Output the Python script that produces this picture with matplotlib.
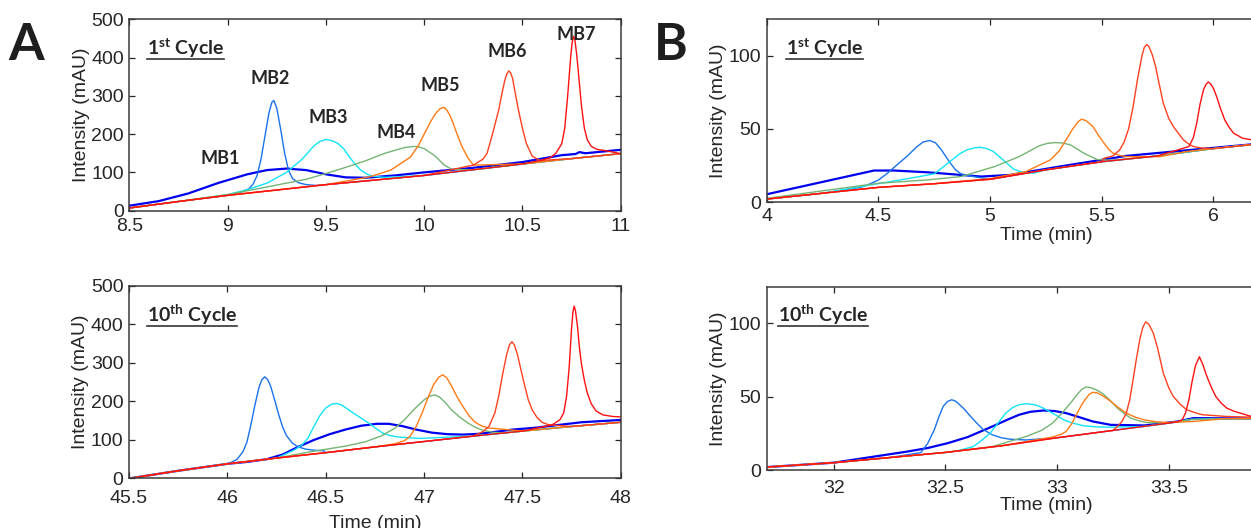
import numpy as np
import matplotlib
matplotlib.use('Agg')
import matplotlib.pyplot as plt
from matplotlib.lines import Line2D
from matplotlib.ticker import FuncFormatter
from matplotlib.transforms import IdentityTransform

# traces: time (min) / intensity (mAU)
# each panel has one shared baseline, each compound adds its own peak stretch

# ---- panel A, 1st cycle ----
a1_base_t = [8.5, 8.75, 9.0, 9.25, 9.5, 9.75, 10.0, 10.25, 10.5, 10.75, 11.0]
a1_base_y = [7, 24, 40, 54, 68, 80, 92, 107, 122, 136, 149]

a1_mb1_t = [8.5, 8.65, 8.8, 8.95, 9.1, 9.2, 9.3, 9.4, 9.5, 9.6, 9.7, 9.85, 10.0, 10.25, 10.5, 10.7, 10.77, 10.79, 10.82, 11.0]
a1_mb1_y = [13, 25, 45, 72, 95, 106, 110, 106, 95, 87, 86, 92, 100, 112, 127, 145, 148, 153, 150, 159]
a1_mb2_t = [9.05, 9.08, 9.11, 9.13, 9.15, 9.17, 9.19, 9.21, 9.225, 9.235, 9.25, 9.27, 9.29, 9.31, 9.33, 9.36, 9.40, 9.45]
a1_mb2_y = [47, 50, 58, 70, 92, 135, 195, 255, 283, 288, 268, 212, 150, 105, 84, 73, 68, 66]
a1_mb3_t = [9.0, 9.1, 9.2, 9.3, 9.38, 9.44, 9.47, 9.5, 9.53, 9.56, 9.59, 9.62, 9.65, 9.68, 9.71, 9.74, 9.8]
a1_mb3_y = [42, 55, 72, 100, 135, 170, 181, 186, 183, 176, 162, 140, 120, 105, 95, 90, 87]
a1_mb4_t = [9.0, 9.2, 9.4, 9.5, 9.6, 9.7, 9.8, 9.9, 9.95, 9.975, 10.0, 10.05, 10.075, 10.1, 10.14, 10.2]
a1_mb4_y = [42, 62, 82, 97, 113, 130, 150, 165, 168, 166, 162, 145, 133, 120, 108, 107]
a1_mb5_t = [9.72, 9.83, 9.93, 9.97, 10.01, 10.035, 10.06, 10.08, 10.10, 10.115, 10.13, 10.145, 10.16, 10.19, 10.22, 10.25]
a1_mb5_y = [88, 106, 140, 170, 210, 235, 255, 266, 270, 263, 250, 232, 210, 170, 140, 119]
a1_mb6_t = [10.25, 10.30, 10.32, 10.35, 10.38, 10.395, 10.41, 10.42, 10.43, 10.44, 10.45, 10.465, 10.48, 10.50, 10.52, 10.55, 10.59]
a1_mb6_y = [119, 135, 150, 205, 265, 305, 340, 357, 365, 360, 345, 302, 262, 215, 175, 142, 131]
a1_mb7_t = [10.59, 10.64, 10.67, 10.70, 10.715, 10.73, 10.745, 10.753, 10.76, 10.767, 10.775, 10.783, 10.79, 10.80,
            10.815, 10.83, 10.85, 10.88, 10.92]
a1_mb7_y = [131, 138, 150, 175, 215, 300, 400, 440, 456, 445, 412, 370, 330, 275, 215, 185, 168, 160, 157]

# ---- panel A, 10th cycle ----
a10_base_t = [45.5, 45.75, 46.0, 46.25, 46.5, 46.75, 47.0, 47.25, 47.5, 47.75, 48.0]
a10_base_y = [0, 20, 38, 53, 67, 82, 96, 110, 123, 135, 146]

a10_mb1_t = [45.5, 45.75, 46.0, 46.1, 46.2, 46.28, 46.36, 46.44, 46.52, 46.6, 46.68, 46.76, 46.82, 46.89, 46.96,
             47.04, 47.12, 47.2, 47.28, 47.36, 47.45, 47.57, 47.7, 47.8, 48.0]
a10_mb1_y = [0, 20, 38, 43, 50, 62, 82, 100, 115, 127, 137, 142, 142, 136, 127,
             119, 115, 114, 116, 121, 127, 132, 140, 146, 152]
a10_mb2_t = [46.02, 46.05, 46.08, 46.10, 46.12, 46.14, 46.16, 46.175, 46.19, 46.205, 46.22, 46.24, 46.26, 46.28,
             46.30, 46.33, 46.36, 46.40, 46.45, 46.49]
a10_mb2_y = [42, 50, 70, 95, 140, 190, 235, 256, 264, 257, 240, 205, 168, 135, 112, 92, 82, 76, 73, 72]
a10_mb3_t = [46.29, 46.34, 46.38, 46.41, 46.44, 46.47, 46.5, 46.53, 46.555, 46.58, 46.61, 46.64, 46.67, 46.70,
             46.73, 46.76, 46.79, 46.83, 46.88, 46.98, 47.15]
a10_mb3_y = [62, 74, 87, 105, 135, 163, 183, 193, 195, 191, 181, 170, 160, 150, 140, 128, 118, 111, 107, 104, 108]
a10_mb4_t = [46.43, 46.6, 46.7, 46.78, 46.85, 46.9, 46.95, 47.0, 47.03, 47.055, 47.08, 47.11, 47.14, 47.18,
             47.22, 47.26, 47.3, 47.35, 47.4]
a10_mb4_y = [70, 84, 95, 110, 130, 152, 180, 204, 214, 217, 211, 196, 178, 160, 145, 133, 125, 120, 118]
a10_mb5_t = [46.85, 46.9, 46.93, 46.96, 46.99, 47.02, 47.05, 47.075, 47.095, 47.115, 47.14, 47.17, 47.2, 47.23,
             47.26, 47.29, 47.33, 47.4]
a10_mb5_y = [90, 98, 110, 135, 170, 210, 245, 263, 269, 262, 240, 210, 185, 162, 146, 137, 131, 128]
a10_mb6_t = [47.30, 47.33, 47.36, 47.38, 47.40, 47.42, 47.435, 47.447, 47.46, 47.475, 47.49, 47.51, 47.53,
             47.55, 47.575, 47.60, 47.63, 47.65]
a10_mb6_y = [122, 135, 170, 215, 272, 322, 348, 355, 346, 322, 288, 245, 204, 178, 158, 146, 140, 139]
a10_mb7_t = [47.65, 47.69, 47.71, 47.725, 47.738, 47.75, 47.757, 47.763, 47.77, 47.78, 47.79, 47.80, 47.815,
             47.83, 47.85, 47.875, 47.91, 47.96, 48.0]
a10_mb7_y = [139, 152, 170, 215, 290, 390, 432, 448, 435, 395, 340, 298, 255, 222, 194, 175, 165, 161, 160]

# ---- panel B, 1st cycle ----
b1_base_t = [4.0, 4.25, 4.5, 4.75, 5.0, 5.25, 5.5, 5.75, 6.0, 6.25]
b1_base_y = [2, 6, 10, 12.5, 15.5, 22, 27.5, 31.5, 36.5, 40.5]

b1_mb1_t = [4.0, 4.48, 4.57, 4.72, 4.87, 4.96, 5.09, 5.31, 5.61, 6.0, 6.25]
b1_mb1_y = [5.3, 21.5, 21.5, 20.3, 18.5, 17.4, 18.5, 24.2, 31.5, 37, 40.5]
b1_mb2_t = [4.42, 4.45, 4.50, 4.54, 4.58, 4.63, 4.67, 4.70, 4.73, 4.755, 4.78, 4.80, 4.82, 4.845, 4.87, 4.925]
b1_mb2_y = [10, 11.6, 15, 19.6, 25, 31.5, 37.5, 41, 42, 40.5, 36, 31.5, 27, 22, 19.2, 17.4]
b1_mb3_t = [4.42, 4.64, 4.75, 4.82, 4.86, 4.895, 4.93, 4.955, 4.985, 5.015, 5.045, 5.075, 5.105, 5.134, 5.194]
b1_mb3_y = [10.5, 16.2, 19.2, 27.6, 32.5, 35.6, 37, 37.4, 36.5, 34.5, 30.5, 26.5, 22.5, 20.8, 19.6]
b1_mb4_t = [4.0, 4.5, 4.72, 4.87, 5.02, 5.13, 5.22, 5.255, 5.29, 5.325, 5.36, 5.42, 5.48, 5.55]
b1_mb4_y = [2.5, 12.8, 15.1, 17.4, 24.2, 31, 38.4, 40, 40.6, 40.3, 39, 33.3, 29, 28.5]
b1_mb5_t = [5.0, 5.16, 5.27, 5.31, 5.34, 5.37, 5.395, 5.41, 5.43, 5.46, 5.485, 5.51, 5.53, 5.55, 5.58, 5.61, 5.76, 5.88]
b1_mb5_y = [16, 20.8, 28.8, 35, 42.5, 50, 55, 56.6, 55.5, 51.6, 45.5, 40.2, 36, 33.4, 31.8, 31, 31, 34.5]
b1_mb6_t = [5.51, 5.55, 5.58, 5.60, 5.62, 5.64, 5.66, 5.68, 5.69, 5.70, 5.71, 5.725, 5.74, 5.755, 5.775,
            5.80, 5.82, 5.845, 5.865, 5.89, 5.91, 5.95]
b1_mb6_y = [29.9, 31.5, 35.6, 41, 50, 65, 84, 100, 105.5, 107.5, 106.5, 101, 93, 82, 67.6,
            57, 51.6, 46.5, 42.5, 39.5, 37.9, 36.8]
b1_mb7_t = [5.89, 5.91, 5.925, 5.94, 5.955, 5.967, 5.977, 5.988, 6.0, 6.014, 6.03, 6.05, 6.07, 6.09, 6.13, 6.17, 6.25]
b1_mb7_y = [37.9, 44, 54, 67, 76.5, 80.5, 82, 80.5, 77.5, 72, 64.5, 56.2, 51, 47, 43.6, 42.5, 41]

# ---- panel B, 10th cycle ----
b10_base_t = [31.7, 32.0, 32.25, 32.5, 32.75, 33.0, 33.25, 33.5, 33.6, 33.75, 34.0]
b10_base_y = [2, 5, 8.5, 12, 16.5, 22, 27, 32, 34.5, 35, 35]

b10_mb1_t = [31.7, 32.0, 32.33, 32.42, 32.51, 32.6, 32.71, 32.78, 32.83, 32.88, 32.94, 32.99, 33.04, 33.1,
             33.16, 33.24, 33.39, 33.54, 33.61, 34.0]
b10_mb1_y = [2, 5, 12.6, 15, 18.3, 22.5, 29.7, 34.5, 37.7, 39.7, 40.6, 40.2, 38.8, 36,
             33.1, 30.8, 30.4, 33.1, 35.4, 35]
b10_mb2_t = [32.39, 32.42, 32.45, 32.47, 32.49, 32.51, 32.528, 32.545, 32.56, 32.58, 32.61, 32.64, 32.67,
             32.71, 32.75, 32.79, 32.86]
b10_mb2_y = [11.9, 18, 27.4, 36, 43.4, 46.8, 47.9, 47, 45, 42.2, 37, 32, 27.5, 24, 22, 21, 20.5]
b10_mb3_t = [32.55, 32.625, 32.66, 32.70, 32.735, 32.77, 32.8, 32.83, 32.864, 32.9, 32.93, 32.96, 33.0,
             33.03, 33.07, 33.12, 33.18, 33.24, 33.39, 33.5]
b10_mb3_y = [13, 16, 20, 25.1, 32, 38.8, 42.5, 44.6, 45.2, 44.5, 42.8, 40.4, 37, 34.2, 32, 30.1, 29.4, 29.2, 29.7, 32]
b10_mb4_t = [32.5, 32.71, 32.86, 32.93, 32.98, 33.02, 33.06, 33.09, 33.11, 33.13, 33.15, 33.17, 33.19,
             33.21, 33.24, 33.27, 33.30, 33.33, 33.36, 33.40, 33.5]
b10_mb4_y = [12, 16, 22.8, 27, 32, 38.5, 45.7, 51.5, 55, 56.6, 56.2, 55, 53.5, 51.4, 47, 42.2, 38.5, 35.4, 33.8, 32.4, 32]
b10_mb5_t = [32.98, 33.02, 33.04, 33.065, 33.09, 33.11, 33.13, 33.145, 33.16, 33.18, 33.2, 33.22, 33.24,
             33.275, 33.31, 33.35, 33.39, 33.44, 33.49, 33.61]
b10_mb5_y = [22.5, 24.5, 26.3, 31.5, 38.8, 44.5, 49, 51.8, 53, 52.6, 51, 49, 46.8, 42.5, 38.8, 36, 34.2, 33, 32.4, 33.1]
b10_mb6_t = [33.25, 33.27, 33.29, 33.31, 33.325, 33.34, 33.355, 33.37, 33.383, 33.396, 33.41, 33.43, 33.45,
             33.475, 33.5, 33.52, 33.55, 33.58, 33.62, 33.65, 33.76, 34.0]
b10_mb6_y = [27, 29.7, 33, 38.8, 48, 61.6, 76, 89, 97, 101, 99.5, 93.6, 83, 66.2, 56, 50.2, 45, 41.1, 39, 37.7, 36.5, 35.5]
b10_mb7_t = [33.54, 33.56, 33.575, 33.59, 33.605, 33.62, 33.637, 33.652, 33.67, 33.69, 33.71, 33.735, 33.76,
             33.79, 33.82, 33.87, 34.0]
b10_mb7_y = [33, 34.2, 39, 48, 61, 71.5, 77.2, 72, 64, 56.5, 50.2, 45.5, 42.2, 40.2, 38.8, 36.5, 35.5]

# compound names, colours and where the names sit in panel A (1st cycle)
mb_names = ['MB1', 'MB2', 'MB3', 'MB4', 'MB5', 'MB6', 'MB7']
mb_colors = ['#0000f0', '#1a72ee', '#12e4f8', '#74b474', '#ff7a14', '#ff4020', '#ff1010']
mb_label_t = [8.96, 9.215, 9.51, 9.86, 10.08, 10.425, 10.775]
mb_label_y = [137, 345, 243, 204, 326, 417, 459]

TXT = '#262626'


def build_trace(base_t, base_y, peak_t, peak_y):
    # baseline before the peak stretch, the peak stretch, baseline after
    base_t = np.asarray(base_t, dtype=float)
    base_y = np.asarray(base_y, dtype=float)
    before = base_t < peak_t[0]
    after = base_t > peak_t[-1]
    t = np.concatenate((base_t[before], peak_t, base_t[after]))
    y = np.concatenate((base_y[before], peak_y, base_y[after]))
    return t, y


def draw_panel(ax, base_t, base_y, traces):
    for i, (pt, py) in enumerate(traces):
        t, y = build_trace(base_t, base_y, pt, py)
        lw = 1.6 if i == 0 else 1.0
        ax.plot(t, y, color=mb_colors[i], lw=lw, solid_joinstyle='round', zorder=2)


def style_axes(ax, xlim, xticks, ylim, yticks, xpad, xlabelpad=None):
    ax.set_xlim(xlim)
    ax.set_ylim(ylim)
    ax.set_xticks(xticks)
    ax.set_yticks(yticks)
    ax.xaxis.set_major_formatter(FuncFormatter(lambda v, p: '%g' % v))
    ax.tick_params(direction='in', length=4, width=0.9, top=True, right=True,
                   labelsize=14, colors=TXT, pad=4)
    ax.tick_params(axis='x', pad=xpad)
    for s in ax.spines.values():
        s.set_color('#3a3a3a')
        s.set_linewidth(1.1)
    ax.set_ylabel('Intensity (mAU)', fontsize=14, color=TXT, labelpad=1)
    if xlabelpad is not None:
        ax.set_xlabel('Time (min)', fontsize=14, color=TXT, labelpad=xlabelpad)


def cycle_label(fig, ax, text, x, y):
    txt = ax.text(x, y, text, transform=ax.transAxes, fontsize=14, fontweight='bold',
                  family=['Lato', 'DejaVu Sans'], color=TXT, va='baseline', ha='left')
    fig.canvas.draw()
    bb = txt.get_window_extent()
    yb = ax.transAxes.transform((x, y))[1] - 4
    fig.add_artist(Line2D([bb.x0, bb.x1], [yb, yb], transform=IdentityTransform(),
                          color='#333333', lw=1.2))


def main():
    plt.rcParams['font.family'] = ['Liberation Sans', 'DejaVu Sans']
    plt.rcParams['mathtext.fontset'] = 'custom'
    plt.rcParams['mathtext.rm'] = 'Lato'
    plt.rcParams['mathtext.bf'] = 'Lato:bold'

    fig = plt.figure(figsize=(12.51, 5.28), dpi=100)

    # B axes run off the right edge of the figure, like the cropped original
    ax_a1 = fig.add_axes([0.1034, 0.601, 0.3928, 0.3625])
    ax_a10 = fig.add_axes([0.1031, 0.0938, 0.3931, 0.3646])
    ax_b1 = fig.add_axes([0.6129, 0.6174, 0.4464, 0.3466])
    ax_b10 = fig.add_axes([0.6129, 0.1098, 0.4464, 0.3472])

    draw_panel(ax_a1, a1_base_t, a1_base_y,
               [(a1_mb1_t, a1_mb1_y), (a1_mb2_t, a1_mb2_y), (a1_mb3_t, a1_mb3_y), (a1_mb4_t, a1_mb4_y),
                (a1_mb5_t, a1_mb5_y), (a1_mb6_t, a1_mb6_y), (a1_mb7_t, a1_mb7_y)])
    draw_panel(ax_a10, a10_base_t, a10_base_y,
               [(a10_mb1_t, a10_mb1_y), (a10_mb2_t, a10_mb2_y), (a10_mb3_t, a10_mb3_y), (a10_mb4_t, a10_mb4_y),
                (a10_mb5_t, a10_mb5_y), (a10_mb6_t, a10_mb6_y), (a10_mb7_t, a10_mb7_y)])
    draw_panel(ax_b1, b1_base_t, b1_base_y,
               [(b1_mb1_t, b1_mb1_y), (b1_mb2_t, b1_mb2_y), (b1_mb3_t, b1_mb3_y), (b1_mb4_t, b1_mb4_y),
                (b1_mb5_t, b1_mb5_y), (b1_mb6_t, b1_mb6_y), (b1_mb7_t, b1_mb7_y)])
    draw_panel(ax_b10, b10_base_t, b10_base_y,
               [(b10_mb1_t, b10_mb1_y), (b10_mb2_t, b10_mb2_y), (b10_mb3_t, b10_mb3_y), (b10_mb4_t, b10_mb4_y),
                (b10_mb5_t, b10_mb5_y), (b10_mb6_t, b10_mb6_y), (b10_mb7_t, b10_mb7_y)])

    style_axes(ax_a1, (8.5, 11), np.arange(8.5, 11.01, 0.5), (0, 500), range(0, 501, 100), xpad=5)
    style_axes(ax_a10, (45.5, 48), np.arange(45.5, 48.01, 0.5), (0, 500), range(0, 501, 100), xpad=8.5, xlabelpad=5.5)
    style_axes(ax_b1, (4, 6.5), np.arange(4, 6.01, 0.5), (0, 125), [0, 50, 100], xpad=4, xlabelpad=2)
    style_axes(ax_b10, (31.7, 34.2), np.arange(32, 33.51, 0.5), (0, 125), [0, 50, 100], xpad=7, xlabelpad=0.5)

    for name, t, y in zip(mb_names, mb_label_t, mb_label_y):
        ax_a1.text(t, y, name, ha='center', va='center', fontsize=13, fontweight='bold',
                   family=['Lato', 'DejaVu Sans'], color=TXT)

    cycle_label(fig, ax_a1, r'1$^{\mathbf{st}}$ Cycle', 0.0354, 0.8135)
    cycle_label(fig, ax_a10, r'10$^{\mathbf{th}}$ Cycle', 0.036, 0.8145)
    cycle_label(fig, ax_b1, r'1$^{\mathbf{st}}$ Cycle', 0.0346, 0.803)
    cycle_label(fig, ax_b10, r'10$^{\mathbf{th}}$ Cycle', 0.0202, 0.809)

    # panel letters
    fig.text(26.5 / 1251, 1 - 60 / 528, 'A', ha='center', va='baseline', fontsize=37,
             fontweight='bold', family=['Lato', 'DejaVu Sans'], color='#1e1e1e')
    fig.text(671 / 1251, 1 - 60 / 528, 'B', ha='center', va='baseline', fontsize=37,
             fontweight='bold', family=['Lato', 'DejaVu Sans'], color='#1e1e1e')

    fig.savefig('out.png', dpi=100)


if __name__ == '__main__':
    main()
